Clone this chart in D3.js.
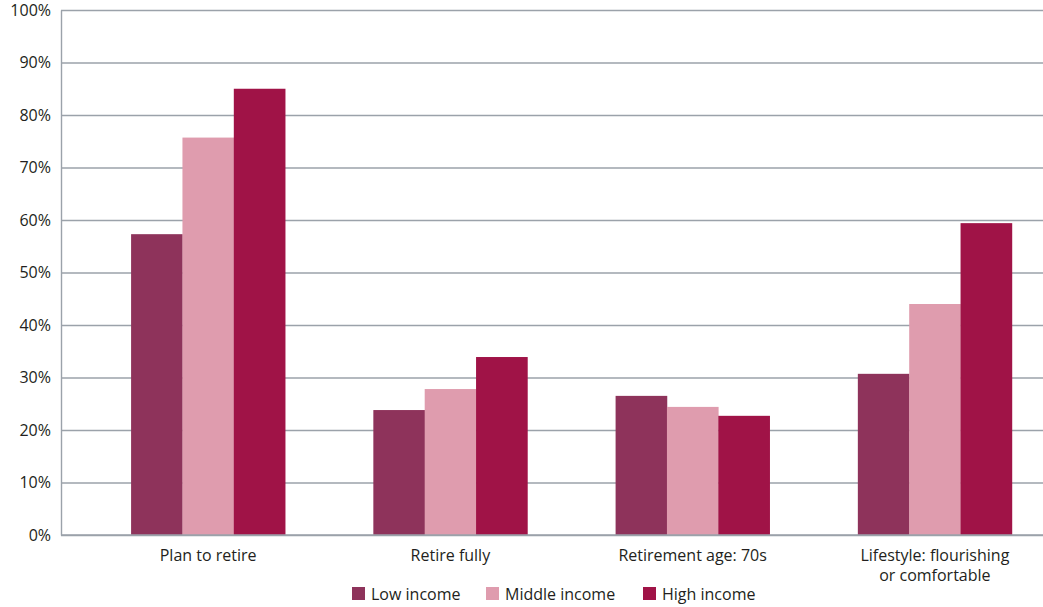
<!DOCTYPE html>
<html>
<head>
<meta charset="utf-8">
<script src="https://cdn.jsdelivr.net/npm/d3@7"></script>
<style>
  html, body { margin: 0; padding: 0; background: #fff; }
  svg { display: block; }
  text { font-family: "Open Sans", "Noto Sans", sans-serif; fill: #231f20; }
</style>
</head>
<body>
<svg id="chart" width="1043" height="607"></svg>
<script>
const categories = ["Plan to retire", "Retire fully", "Retirement age: 70s", "Lifestyle: flourishing\nor comfortable"];
const seriesNames = ["Low income", "Middle income", "High income"];
const lowIncome = [57.3, 23.8, 26.5, 30.7];
const middleIncome = [75.7, 27.8, 24.4, 44.0];
const highIncome = [85.0, 33.9, 22.7, 59.4];
const yTicks = [0, 10, 20, 30, 40, 50, 60, 70, 80, 90, 100];
const colors = ["#8e335b", "#df9cae", "#a01347"];

const seriesValues = [lowIncome, middleIncome, highIncome];
const data = categories.map((c, i) => ({
  category: c,
  values: seriesNames.map((s, j) => ({ series: s, value: seriesValues[j][i] }))
}));

const svg = d3.select("#chart");
const plotLeft = 61, plotRight = 1043, plotTop = 10, plotBottom = 535;

const y = d3.scaleLinear().domain([0, 100]).range([plotBottom, plotTop]);
const x0 = d3.scaleBand().domain(categories).range([87, 1056]).paddingInner(0.364).paddingOuter(0.182);
const x1 = d3.scaleBand().domain(seriesNames).range([0, x0.bandwidth()]).padding(0);
const color = d3.scaleOrdinal().domain(seriesNames).range(colors);

// gridlines
const grid = svg.append("g")
  .attr("transform", `translate(${plotLeft},0)`)
  .call(d3.axisLeft(y).tickValues(yTicks).tickSize(-(plotRight - plotLeft)).tickFormat(""));
grid.select(".domain").remove();
grid.selectAll(".tick line").attr("stroke", "#9ba2aa").attr("stroke-width", 1.4);

// bars
const groups = svg.append("g").selectAll("g")
  .data(data).join("g")
  .attr("transform", d => `translate(${x0(d.category)},0)`);
groups.selectAll("rect")
  .data(d => d.values).join("rect")
  .attr("x", d => x1(d.series))
  .attr("width", x1.bandwidth() + 0.3)
  .attr("y", d => y(d.value))
  .attr("height", d => y(0) - y(d.value))
  .attr("fill", d => color(d.series));

// y axis labels
const yAxis = svg.append("g")
  .attr("transform", `translate(${plotLeft},0)`)
  .call(d3.axisLeft(y).tickValues(yTicks).tickSize(0).tickPadding(10).tickFormat(d => d + "%"));
yAxis.select(".domain").attr("stroke", "#9ba2aa").attr("stroke-width", 1.4);
yAxis.selectAll("text").style("font-size", "16px").attr("fill", "#231f20");

// baseline
svg.append("line")
  .attr("x1", plotLeft).attr("x2", plotRight)
  .attr("y1", y(0)).attr("y2", y(0))
  .attr("stroke", "#9ba2aa").attr("stroke-width", 1.6);

// x axis labels
const xAxis = svg.append("g")
  .attr("transform", `translate(0,${plotBottom})`)
  .call(d3.axisBottom(x0).tickSize(0).tickPadding(0).tickFormat(""));
xAxis.select(".domain").remove();
xAxis.selectAll(".tick").each(function(d) {
  const t = d3.select(this).append("text")
    .attr("text-anchor", "middle")
    .style("font-size", "16px")
    .attr("fill", "#231f20");
  d.split("\n").forEach((line, i) => {
    t.append("tspan").attr("x", 0).attr("y", 26 + i * 20).text(line);
  });
});

// legend
const legendItems = [
  { name: seriesNames[0], x: 352 },
  { name: seriesNames[1], x: 486 },
  { name: seriesNames[2], x: 643 }
];
const legend = svg.append("g").selectAll("g")
  .data(legendItems).join("g")
  .attr("transform", d => `translate(${d.x},587)`);
legend.append("rect")
  .attr("width", 13).attr("height", 13)
  .attr("fill", d => color(d.name));
legend.append("text")
  .attr("x", 19).attr("y", 12.5)
  .style("font-size", "16px")
  .text(d => d.name);
</script>
</body>
</html>
